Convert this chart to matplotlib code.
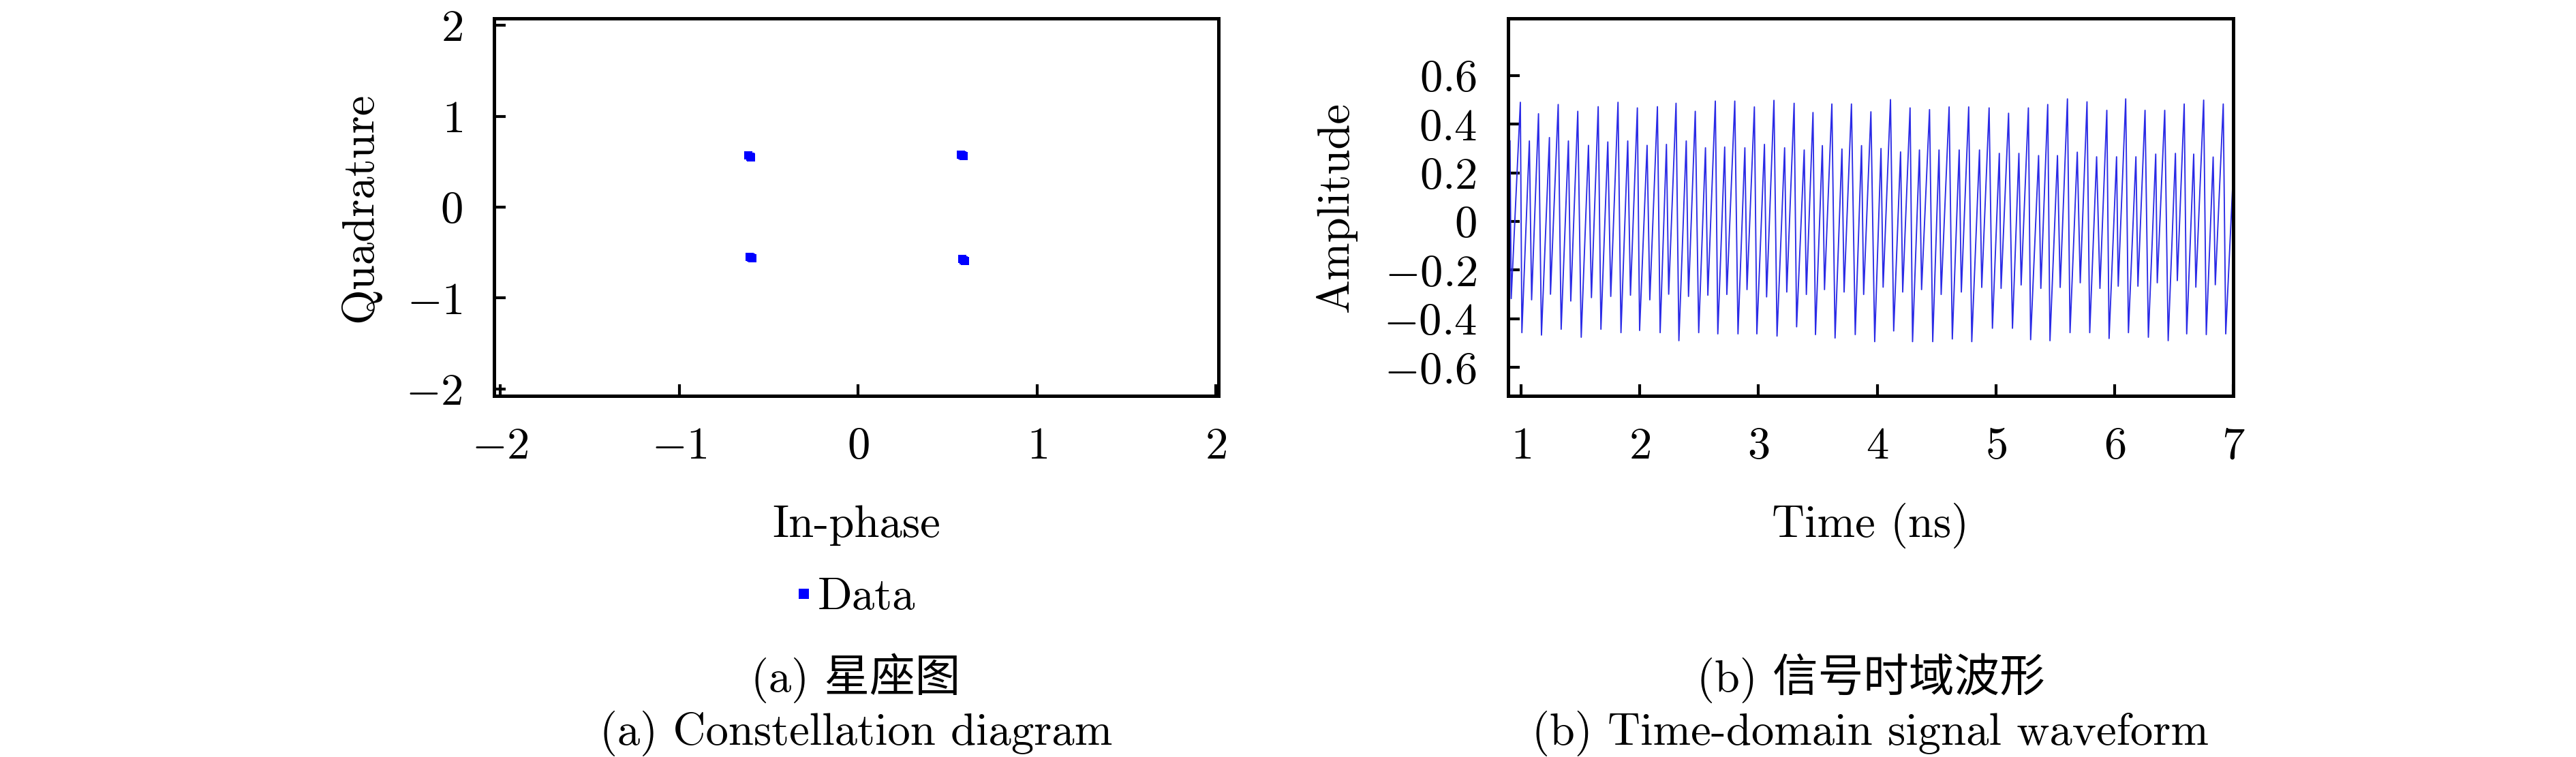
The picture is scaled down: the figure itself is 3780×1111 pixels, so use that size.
import numpy as np
import matplotlib
matplotlib.use("Agg")
import matplotlib.pyplot as plt
from matplotlib.ticker import FuncFormatter

# constellation points (In-phase, Quadrature), four QPSK clusters
const_i = [-0.612, -0.600, -0.603, 0.573, 0.590, 0.584,
           -0.606, -0.592, -0.598, 0.582, 0.597, 0.590]
const_q = [0.566, 0.548, 0.558, 0.576, 0.562, 0.569,
           -0.548, -0.565, -0.556, -0.570, -0.594, -0.582]

# waveform extrema (ns, amplitude)
mid_t = [0.906, 1.069, 1.238, 1.398, 1.567, 1.730, 1.898, 2.061, 2.224, 2.391,
         2.553, 2.715, 2.885, 3.050, 3.220, 3.385, 3.538, 3.703, 3.868, 4.032,
         4.197, 4.356, 4.521, 4.691, 4.862, 5.029, 5.194, 5.360, 5.519, 5.686,
         5.849, 6.017, 6.180, 6.347, 6.513, 6.667, 6.831, 7.010]
mid_v = [0.331, 0.331, 0.345, 0.331, 0.313, 0.327, 0.331, 0.313, 0.317, 0.331,
         0.303, 0.306, 0.303, 0.317, 0.303, 0.294, 0.312, 0.298, 0.312, 0.300,
         0.286, 0.294, 0.294, 0.294, 0.294, 0.280, 0.280, 0.271, 0.271, 0.285,
         0.266, 0.266, 0.266, 0.277, 0.280, 0.277, 0.265, 0.300]

sh_t = [0.916, 1.088, 1.247, 1.418, 1.592, 1.755, 1.921, 2.084, 2.243, 2.410,
        2.573, 2.733, 2.903, 3.068, 3.238, 3.403, 3.556, 3.721, 3.886, 4.050,
        4.215, 4.374, 4.539, 4.709, 4.881, 5.044, 5.213, 5.379, 5.542, 5.711,
        5.877, 6.031, 6.197, 6.360, 6.529, 6.685, 6.849]
sh_v = [-0.317, -0.322, -0.299, -0.327, -0.313, -0.308, -0.303, -0.322, -0.299, -0.308,
        -0.303, -0.300, -0.280, -0.310, -0.290, -0.300, -0.280, -0.290, -0.300, -0.270,
        -0.290, -0.280, -0.300, -0.290, -0.271, -0.275, -0.261, -0.275, -0.271, -0.252,
        -0.275, -0.266, -0.266, -0.252, -0.243, -0.270, -0.260]

hi_t = [0.993, 1.146, 1.312, 1.477, 1.649, 1.816, 1.979, 2.148, 2.305, 2.467,
        2.636, 2.800, 2.965, 3.130, 3.300, 3.459, 3.618, 3.783, 3.947, 4.112,
        4.277, 4.441, 4.606, 4.771, 4.943, 5.107, 5.274, 5.437, 5.603, 5.768,
        5.935, 6.094, 6.257, 6.423, 6.587, 6.751, 6.916]
hi_v = [0.490, 0.443, 0.481, 0.453, 0.472, 0.490, 0.467, 0.472, 0.486, 0.453,
        0.495, 0.495, 0.471, 0.498, 0.486, 0.448, 0.483, 0.483, 0.451, 0.501,
        0.467, 0.460, 0.471, 0.471, 0.467, 0.445, 0.467, 0.481, 0.504, 0.492,
        0.457, 0.504, 0.457, 0.457, 0.483, 0.499, 0.483]

lo_t = [1.006, 1.171, 1.337, 1.506, 1.672, 1.841, 1.998, 2.171, 2.329, 2.496,
        2.657, 2.827, 2.986, 3.156, 3.321, 3.480, 3.645, 3.815, 3.979, 4.139,
        4.298, 4.468, 4.633, 4.797, 4.971, 5.140, 5.293, 5.456, 5.625, 5.791,
        5.954, 6.117, 6.285, 6.452, 6.608, 6.773, 6.937]
lo_v = [-0.457, -0.467, -0.443, -0.476, -0.443, -0.457, -0.448, -0.457, -0.490, -0.457,
        -0.462, -0.462, -0.462, -0.471, -0.433, -0.465, -0.479, -0.465, -0.494, -0.450,
        -0.494, -0.494, -0.483, -0.494, -0.439, -0.439, -0.486, -0.490, -0.457, -0.457,
        -0.481, -0.457, -0.476, -0.490, -0.462, -0.465, -0.462]

const_xticks = [-2, -1, 0, 1, 2]
const_yticks = [-2, -1, 0, 1, 2]
wave_xticks = [1, 2, 3, 4, 5, 6, 7]
wave_yticks = [-0.6, -0.4, -0.2, 0, 0.2, 0.4, 0.6]

plt.rcParams['font.family'] = ['cmr10', 'Noto Sans CJK SC', 'DejaVu Sans']
plt.rcParams['mathtext.fontset'] = 'cm'
plt.rcParams['font.size'] = 16
plt.rcParams['axes.linewidth'] = 1.2

W, H = 3780, 1111
fig = plt.figure(figsize=(W / 300, H / 300), dpi=300)

ax1 = fig.add_axes([725 / W, 1 - 581 / H, 1063 / W, 554 / H])
ax2 = fig.add_axes([2213 / W, 1 - 581 / H, 1064 / W, 554 / H])

fmt = FuncFormatter(lambda v, _: "$%g$" % v)

for ax in (ax1, ax2):
    ax.tick_params(direction='in', length=4, width=1.0, pad=11,
                   top=False, right=False, labelsize=16)
    ax.xaxis.set_major_formatter(fmt)
    ax.yaxis.set_major_formatter(fmt)

# (a) constellation
ax1.plot(const_i, const_q, 's', color='#0000ff', ms=3, mew=0, label='Data')
ax1.set_xlim(-2.035, 2.015)
ax1.set_ylim(-2.075, 2.075)
ax1.set_xticks(const_xticks)
ax1.set_yticks(const_yticks)
ax1.set_xlabel('In-phase', va='baseline')
ax1.xaxis.set_label_coords(0.5, -(788 - 581) / 554)
ax1.set_ylabel('Quadrature', va='baseline')
ax1.yaxis.set_label_coords(-(725 - 545) / 1063, 0.5)

fig.legend(*ax1.get_legend_handles_labels(), loc='center',
           bbox_to_anchor=(1256 / W, 1 - 877 / H), frameon=False,
           handlelength=0.3, handletextpad=0.15, markerscale=1.2,
           borderpad=0, fontsize=16)

# (b) waveform
t = np.concatenate([mid_t, sh_t, hi_t, lo_t])
v = np.concatenate([mid_v, sh_v, hi_v, lo_v])
order = np.argsort(t)
ax2.plot(t[order], v[order], color='#2a2ae6', lw=0.45)
ax2.set_xlim(0.89, 7.0)
ax2.set_ylim(-0.717, 0.835)
ax2.set_xticks(wave_xticks)
ax2.set_yticks(wave_yticks)
ax2.set_xlabel('Time (ns)', va='baseline')
ax2.xaxis.set_label_coords(0.5, -(788 - 581) / 554)
ax2.set_ylabel('Amplitude', va='baseline')
ax2.yaxis.set_label_coords(-(2213 - 1978) / 1064, 0.5)

# captions
fig.text(1256 / W, 1 - 1015 / H, '(a) 星座图', ha='center', va='baseline')
fig.text(1256 / W, 1 - 1093 / H, '(a) Constellation diagram', ha='center', va='baseline')
fig.text(2745 / W, 1 - 1015 / H, '(b) 信号时域波形', ha='center', va='baseline')
fig.text(2745 / W, 1 - 1093 / H, '(b) Time-domain signal waveform', ha='center', va='baseline')

fig.savefig('out.png', dpi=300)
